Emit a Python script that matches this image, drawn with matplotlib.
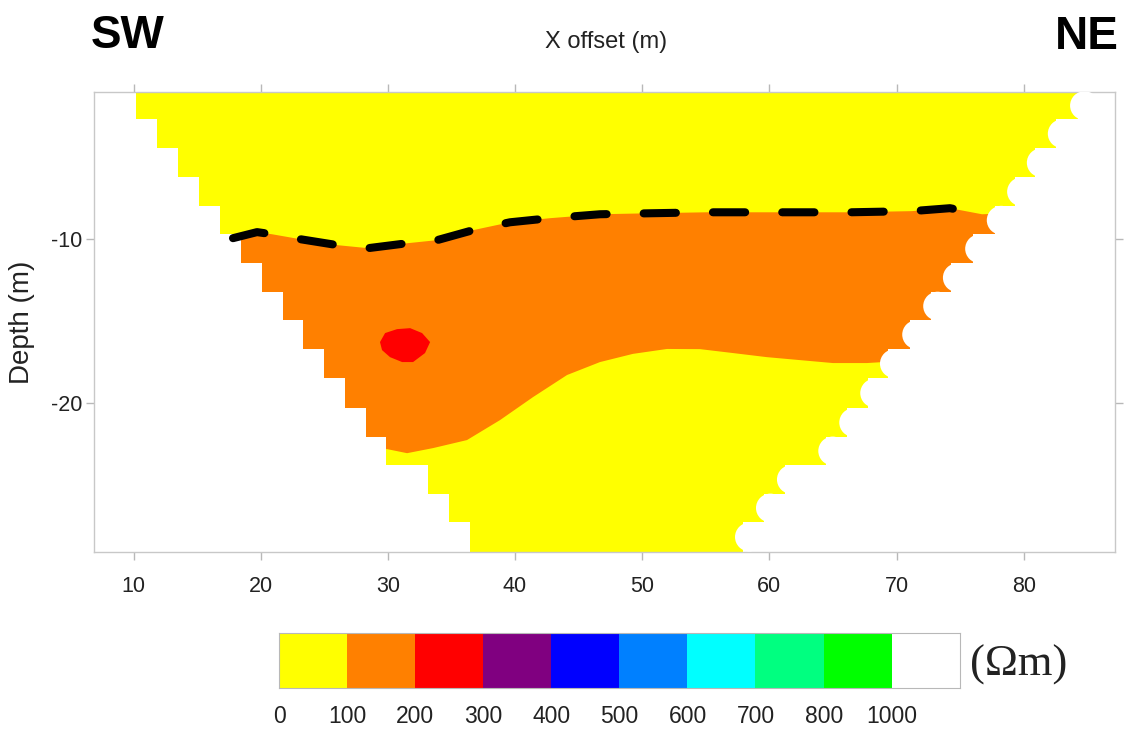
import numpy as np
import matplotlib
matplotlib.use("Agg")
import matplotlib.pyplot as plt
from matplotlib.colors import ListedColormap
from matplotlib.patches import Polygon

plt.rcParams['font.family'] = ['Liberation Sans', 'DejaVu Sans']
plt.rcParams['axes.unicode_minus'] = False

# [data] pseudosection rows (depth of row boundaries, left / right end of each row)
level_depth = [-1.0, -2.66, -4.43, -6.20, -7.97, -9.68, -11.45, -13.21, -14.92,
               -16.69, -18.46, -20.29, -22.05, -23.76, -25.53, -27.24, -29.07]
left_x = [10.2, 11.85, 13.5, 15.15, 16.8, 18.45, 20.1, 21.75, 23.35, 25.0,
          26.6, 28.3, 29.85, 33.15, 34.8, 36.45]
right_x = [83.65, 81.9, 80.25, 78.7, 77.1, 75.4, 73.65, 72.1, 70.45, 68.7,
           67.15, 65.5, 63.85, 60.6, 58.95, 57.3]

# 100 Ohm.m contour (dashed interpretation line / top of orange zone)
line_x = [17.82, 19.71, 20.89, 23.09, 26.08, 28.44, 31.51, 33.87, 36.70, 39.6,
          42.75, 46.68, 50.61, 55.09, 60.83, 66.34, 71.21, 74.2, 76.72]
line_y = [-9.92, -9.55, -9.68, -9.98, -10.35, -10.53, -10.23, -10.04, -9.43, -8.95,
          -8.70, -8.46, -8.40, -8.34, -8.34, -8.34, -8.27, -8.09, -8.46]

# bottom of orange zone (ends run out past the section edges)
bottom_x = [12.0, 28.60, 29.93, 31.51, 33.55, 36.22, 38.82, 41.41, 44.09, 46.68,
            49.27, 51.95, 54.54, 57.14, 59.81, 62.4, 65.0, 67.67, 68.93, 70.27, 88.0]
bottom_y = [-22.9, -22.85, -22.79, -23.04, -22.73, -22.24, -21.02, -19.62, -18.27, -17.48,
            -16.98, -16.68, -16.69, -16.93, -17.18, -17.36, -17.54, -17.54, -17.48, -17.36, -17.3]

# 200-300 Ohm.m body
red_x = [29.38, 29.78, 30.72, 31.75, 32.69, 33.32, 32.92, 31.98, 31.12, 30.17, 29.54]
red_y = [-16.26, -15.71, -15.47, -15.41, -15.71, -16.26, -16.93, -17.48, -17.48, -17.18, -16.75]

# colour scale
cb_colors = ["#ffff00", "#ff8000", "#ff0000", "#800080", "#0000ff",
             "#0080ff", "#00ffff", "#00ff80", "#00ff00", "#ffffff"]
cb_labels = ["0", "100", "200", "300", "400", "500", "600", "700", "800", "1000"]

x_ticks = [10, 20, 30, 40, 50, 60, 70, 80]
y_ticks = [-10, -20]

fig = plt.figure(figsize=(11.25, 7.33), dpi=100)
ax = fig.add_axes([93.5 / 1125, 1 - 552 / 733, 1021.5 / 1125, 460 / 733])
ax.set_xlim(6.85, 87.18)
ax.set_ylim(-29.07, -1.0)

# stepped outline of the section
cap = 0.63   # how far the row reaches past the scallop
verts = []
for i in range(len(left_x)):
    verts.append((left_x[i], level_depth[i]))
    verts.append((left_x[i], level_depth[i + 1]))
for i in reversed(range(len(right_x))):
    verts.append((right_x[i] + cap, level_depth[i + 1]))
    verts.append((right_x[i] + cap, level_depth[i]))
section = Polygon(verts, closed=True, facecolor=cb_colors[0], edgecolor="none", zorder=1)
ax.add_patch(section)

# orange zone
o_verts = list(zip(line_x + [88.0], line_y + [-8.2])) + list(zip(bottom_x[::-1], bottom_y[::-1]))
orange = Polygon(o_verts, closed=True, facecolor=cb_colors[1], edgecolor="none", zorder=2)
ax.add_patch(orange)
orange.set_clip_path(section)

red = Polygon(list(zip(red_x, red_y)), closed=True, facecolor=cb_colors[2], edgecolor="none", zorder=3)
ax.add_patch(red)

# rounded ends on the right side
mid = [(level_depth[i] + level_depth[i + 1]) / 2 for i in range(len(right_x))]
ax.scatter(np.array(right_x) + 1.13, mid, s=430, color="white", edgecolors="none", zorder=4)

# dashed line
ax.plot(line_x, line_y, color="black", lw=5.8, linestyle=(0, (4, 4.6)),
        dash_capstyle="round", solid_capstyle="round", zorder=5)

ax.set_xticks(x_ticks)
ax.set_yticks(y_ticks)
ax.tick_params(direction="out", length=6, width=1, color="#b8b8b8",
               top=True, right=True, labeltop=False, labelright=False,
               labelsize=15.5, labelcolor="#222222")
ax.tick_params(axis="x", pad=11)
ax.tick_params(axis="y", pad=2)
for s in ax.spines.values():
    s.set_color("#c8c8c8")
    s.set_linewidth(1)

fig.text(606 / 1125, 1 - 42 / 733, "X offset (m)", ha="center", va="center",
         fontsize=17, color="#222222")
fig.text(22 / 1125, 1 - 322 / 733, "Depth (m)", ha="center", va="center",
         rotation=90, fontsize=20, color="#222222")
fig.text(128 / 1125, 1 - 36 / 733, "SW", ha="center", va="center",
         fontsize=33, fontweight="bold", color="black")
fig.text(1087 / 1125, 1 - 37 / 733, "NE", ha="center", va="center",
         fontsize=33, fontweight="bold", color="black")

# colour bar
cax = fig.add_axes([279 / 1125, 1 - 688 / 733, 681 / 1125, 55 / 733])
cax.imshow(np.arange(len(cb_colors)).reshape(1, -1), cmap=ListedColormap(cb_colors),
           extent=(0, len(cb_colors), 0, 1), aspect="auto", interpolation="nearest")
cax.set_xticks(range(len(cb_labels)))
cax.set_xticklabels(cb_labels)
cax.set_yticks([])
cax.tick_params(axis="x", length=0, pad=12, labelsize=16.5, labelcolor="#222222")
for s in cax.spines.values():
    s.set_color("#b8b8b8")
fig.text(970 / 1125, 1 - 665 / 733, "(Ωm)", ha="left", va="center",
         fontsize=32, family=["Liberation Serif", "DejaVu Serif"], color="#222222")

fig.savefig("out.png", dpi=100)
